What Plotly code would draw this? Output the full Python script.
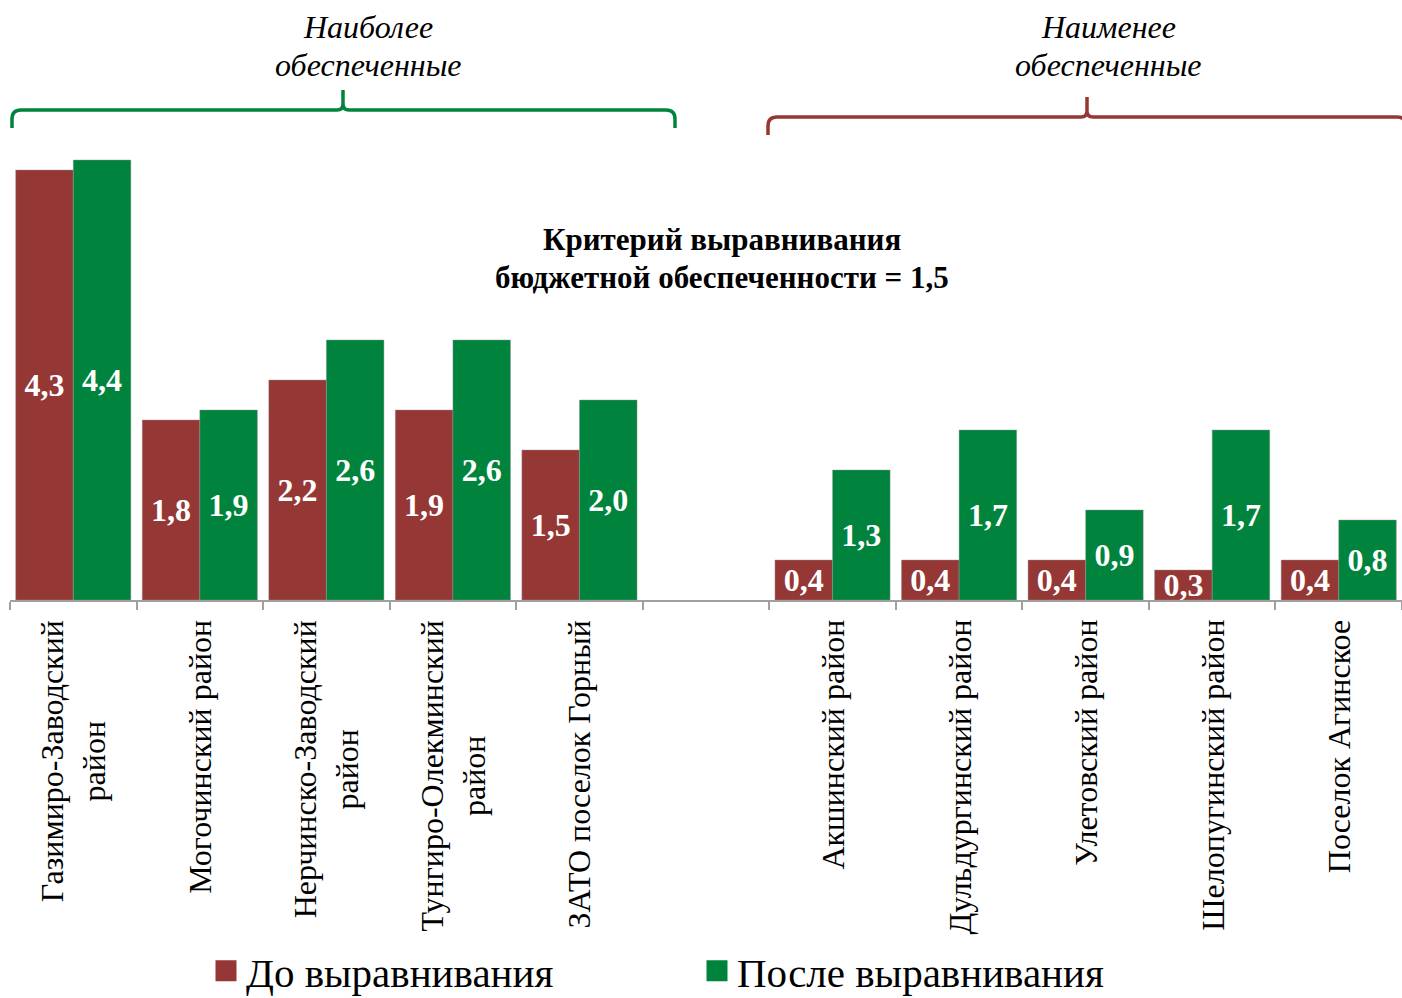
import plotly.graph_objects as go

# Districts (an empty slot separates the two groups)
categories = [
    "Газимиро-Заводский<br>район",
    "Могочинский район",
    "Нерчинско-Заводский<br>район",
    "Тунгиро-Олекминский<br>район",
    "ЗАТО поселок Горный",
    " ",
    "Акшинский район",
    "Дульдургинский район",
    "Улетовский район",
    "Шелопугинский район",
    "Поселок Агинское",
]
before_values = [4.3, 1.8, 2.2, 1.9, 1.5, None, 0.4, 0.4, 0.4, 0.3, 0.4]
after_values = [4.4, 1.9, 2.6, 2.6, 2.0, None, 1.3, 1.7, 0.9, 1.7, 0.8]
series_names = ["До выравнивания", "После выравнивания"]

title_lines = ["Критерий выравнивания", "бюджетной обеспеченности = 1,5"]
group_title_lines = [["Наиболее", "обеспеченные"], ["Наименее", "обеспеченные"]]

RED = "#953735"
GREEN = "#00843D"
AXIS_GREY = "#a0a0a0"
FONT = "Liberation Serif, Times New Roman, serif"

W, H = 1402, 998
ML, MR, MT, MB = 10, 0, 100, 398
PW, PH = W - ML - MR, H - MT - MB
LINE_STEP = 38  # spacing between stacked text lines, px


def px(x):
    """Pixel x -> paper x."""
    return (x - ML) / PW


def py(y):
    """Pixel y -> paper y."""
    return (H - MB - y) / PH


fig = go.Figure()
for name, vals, color in [(series_names[0], before_values, RED),
                          (series_names[1], after_values, GREEN)]:
    fig.add_trace(go.Bar(
        x=categories, y=vals, name=name,
        marker=dict(color=color, line=dict(color="rgba(150,150,150,0.6)", width=0.75)),
        texttemplate="%{y:.1f}", textposition="inside", insidetextanchor="middle",
        constraintext="none", textangle=0,
        textfont=dict(family=FONT, size=32, color="white", weight="bold"),
        showlegend=False, hoverinfo="skip",
    ))
    # legend entry with a larger square swatch
    fig.add_trace(go.Scatter(
        x=[None], y=[None], mode="markers", name=name,
        marker=dict(symbol="square", size=16, color=color, line=dict(color=color, width=5)),
    ))

# category labels, rotated and centred line by line
annotations = []
for cat in categories:
    annotations.append(dict(
        x=cat, xref="x", y=0, yref="paper", yanchor="top", xanchor="center",
        yshift=-18, text=cat, showarrow=False, textangle=-90, align="center",
        font=dict(family=FONT, size=32, color="black"),
    ))

# centre caption, bold
for i, line in enumerate(title_lines):
    annotations.append(dict(
        x=px(722), y=py(239 + i * LINE_STEP), xref="paper", yref="paper",
        xanchor="center", yanchor="middle", text=f"<b>{line}</b>", showarrow=False,
        font=dict(family=FONT, size=31, color="black"),
    ))

# group headings, italic
for xc, lines in zip([368, 1108], group_title_lines):
    for i, line in enumerate(lines):
        annotations.append(dict(
            x=px(xc), y=py(27 + i * LINE_STEP), xref="paper", yref="paper",
            xanchor="center", yanchor="middle", text=f"<i>{line}</i>", showarrow=False,
            font=dict(family=FONT, size=32, color="black"),
        ))


def brace(x0, x1, xc, h, e, n, r=9, k=6):
    pts = [
        f"M{px(x0)},{py(e)}",
        f"L{px(x0)},{py(h + r)}",
        f"Q{px(x0)},{py(h)} {px(x0 + r)},{py(h)}",
        f"L{px(xc - k)},{py(h)}",
        f"Q{px(xc)},{py(h)} {px(xc)},{py(h - k)}",
        f"L{px(xc)},{py(n)}",
        f"L{px(xc)},{py(h - k)}",
        f"Q{px(xc)},{py(h)} {px(xc + k)},{py(h)}",
        f"L{px(x1 - r)},{py(h)}",
        f"Q{px(x1)},{py(h)} {px(x1)},{py(h + r)}",
        f"L{px(x1)},{py(e)}",
    ]
    return " ".join(pts)


shapes = [
    dict(type="path", xref="paper", yref="paper",
         path=brace(12, 675, 343, 110, 128, 90), line=dict(color=GREEN, width=3.5)),
    dict(type="path", xref="paper", yref="paper",
         path=brace(768, 1406, 1087, 117, 135, 97), line=dict(color=RED, width=3.5)),
]

fig.update_layout(
    width=W, height=H,
    margin=dict(l=ML, r=MR, t=MT, b=MB, pad=0, autoexpand=False),
    paper_bgcolor="white", plot_bgcolor="white",
    barmode="group", bargap=0.09, bargroupgap=0,
    separators=", ",
    font=dict(family=FONT, color="black"),
    xaxis=dict(
        type="category", showline=True, linecolor=AXIS_GREY, linewidth=1.5,
        ticks="outside", ticklen=8, tickcolor=AXIS_GREY, tickwidth=1.5,
        tickson="boundaries", showticklabels=False, showgrid=False, zeroline=False,
        fixedrange=True,
    ),
    yaxis=dict(range=[0, 5], visible=False, fixedrange=True),
    legend=dict(
        orientation="h", x=px(206), xanchor="left", y=py(971), yanchor="middle",
        font=dict(family=FONT, size=41, color="black"),
        entrywidth=446, entrywidthmode="pixels", bgcolor="rgba(0,0,0,0)",
    ),
    annotations=annotations,
    shapes=shapes,
)

fig.write_html("out.html")
